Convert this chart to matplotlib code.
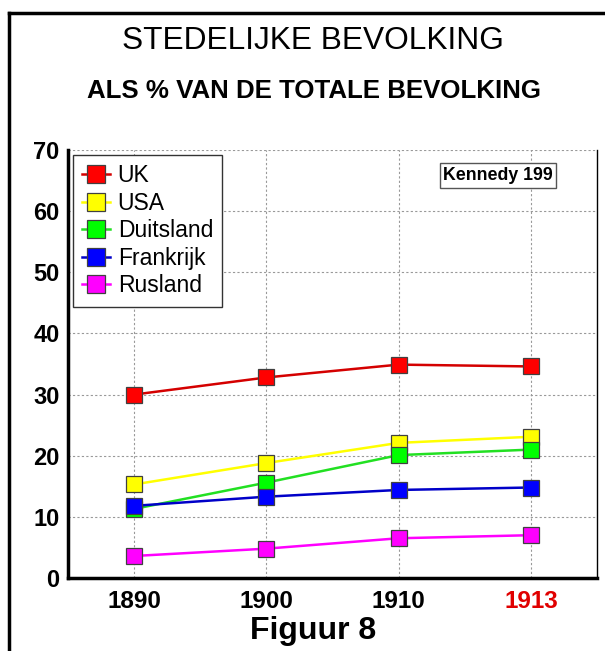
import matplotlib.pyplot as plt
from matplotlib.lines import Line2D

plt.rcParams['font.family'] = ['Liberation Sans', 'DejaVu Sans']

years = ['1890', '1900', '1910', '1913']
uk = [30.0, 32.8, 34.9, 34.6]
usa = [15.3, 18.8, 22.1, 23.1]
duitsland = [11.3, 15.6, 20.1, 21.0]
frankrijk = [11.8, 13.3, 14.4, 14.8]
rusland = [3.6, 4.8, 6.5, 7.0]

series = [
    ('UK', uk, '#ff0000', '#d40000'),
    ('USA', usa, '#ffff00', '#ffff00'),
    ('Duitsland', duitsland, '#00ff00', '#22e022'),
    ('Frankrijk', frankrijk, '#0000ff', '#0000c8'),
    ('Rusland', rusland, '#ff00ff', '#ff00ff'),
]

fig = plt.figure(figsize=(6.05, 6.51), dpi=100)
ax = fig.add_axes([68 / 605, 1 - 578 / 651, 529 / 605, 428 / 651])

x = list(range(len(years)))
for name, vals, fc, lc in series:
    ax.plot(x, vals, color=lc, lw=1.8, marker='s', markersize=11,
            markerfacecolor=fc, markeredgecolor='#404040', markeredgewidth=0.9,
            label=name, zorder=3)

ax.set_xlim(-0.5, 3.5)
ax.set_ylim(0, 70)
ax.set_yticks(range(0, 71, 10))
ax.set_xticks(x)
ax.set_xticklabels(years)
ax.tick_params(axis='y', length=0, labelsize=17, pad=6)
ax.tick_params(axis='x', length=0, labelsize=17.5, pad=9)
for lab in ax.get_xticklabels() + ax.get_yticklabels():
    lab.set_fontweight('bold')
ax.get_xticklabels()[-1].set_color('#e00000')

ax.grid(True, color='#999999', ls=(0, (2, 2)), lw=0.8)
ax.set_axisbelow(True)
ax.spines['top'].set_visible(False)
ax.spines['left'].set_linewidth(2.5)
ax.spines['bottom'].set_linewidth(2.5)
ax.spines['right'].set_linewidth(1.0)

leg = ax.legend(loc='upper left', bbox_to_anchor=(5 / 529, 1 - 5 / 428), borderaxespad=0,
                fontsize=16.5, markerscale=1.15,
                handlelength=1.2, handletextpad=0.35, labelspacing=0.2,
                borderpad=0.4, fancybox=False, framealpha=1)
leg.get_frame().set_edgecolor('#333333')
leg.get_frame().set_linewidth(1.0)

ax.text(498 / 605, 1 - 175.5 / 651, 'Kennedy 199', transform=fig.transFigure,
        ha='center', va='center', fontsize=12.8, fontweight='bold',
        bbox=dict(boxstyle='square,pad=0.2', fc='white', ec='#555555', lw=1.0))

fig.text(313 / 605, 1 - 41 / 651, 'STEDELIJKE BEVOLKING', ha='center', va='center', fontsize=22.8)
fig.text(314 / 605, 1 - 91 / 651, 'ALS % VAN DE TOTALE BEVOLKING', ha='center', va='center',
         fontsize=18.6, fontweight='bold')
fig.text(313 / 605, 1 - 631 / 651, 'Figuur 8', ha='center', va='center', fontsize=23, fontweight='bold')

# outer frame
fig.add_artist(Line2D([9 / 605, 9 / 605], [0, 1 - 13 / 651], color='black', lw=2.5,
                      transform=fig.transFigure))
fig.add_artist(Line2D([9 / 605, 1], [1 - 13 / 651, 1 - 13 / 651], color='black', lw=2.5,
                      transform=fig.transFigure))

fig.savefig('out.png', dpi=100)
